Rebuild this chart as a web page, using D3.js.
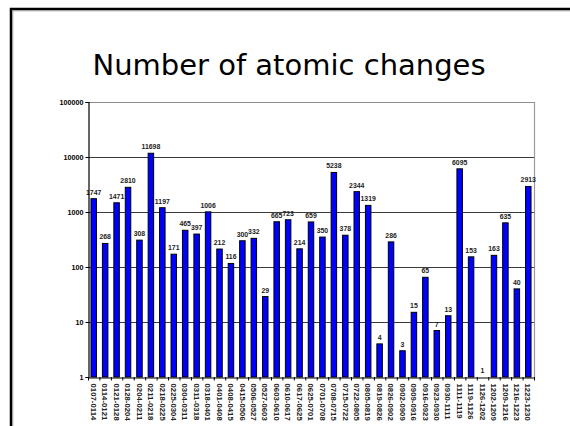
<!DOCTYPE html>
<html>
<head>
<meta charset="utf-8">
<script src="https://cdn.jsdelivr.net/npm/d3@7"></script>
<style>
  html, body { margin: 0; padding: 0; background: #fff; }
  svg { display: block; }
</style>
</head>
<body>
<script>
// Weekly periods (MMDD-MMDD)
const periods = [
  "0107-0114", "0114-0121", "0121-0128", "0128-0204", "0204-0211", "0211-0218",
  "0218-0225", "0225-0304", "0304-0311", "0311-0318", "0318-0401", "0401-0408",
  "0408-0415", "0415-0506", "0506-0527", "0527-0603", "0603-0610", "0610-0617",
  "0617-0625", "0625-0701", "0701-0708", "0708-0715", "0715-0722", "0722-0805",
  "0805-0819", "0819-0826", "0826-0902", "0902-0909", "0909-0916", "0916-0923",
  "0923-0930", "0930-1111", "1111-1119", "1119-1126", "1126-1202", "1202-1209",
  "1209-1216", "1216-1223", "1223-1230"
];

// Number of atomic changes per period
const changes = [
  1747, 268, 1471, 2810, 308, 11698,
  1197, 171, 465, 397, 1006, 212,
  116, 300, 332, 29, 665, 723,
  214, 659, 350, 5238, 378, 2344,
  1319, 4, 286, 3, 15, 65,
  7, 13, 6095, 153, 1, 163,
  635, 40, 2913
];

// Logarithmic axis ticks
const yTicks = [1, 10, 100, 1000, 10000, 100000];

const W = 570, H = 426;
const plot = { left: 88, right: 534, top: 102, bottom: 377 };
const smallFont = "'Liberation Sans', Arial, sans-serif";

const svg = d3.select("body").append("svg")
  .attr("width", W).attr("height", H);

// Slide frame
svg.append("path")
  .attr("d", `M11,${H} V9 H${W}`)
  .attr("fill", "none").attr("stroke", "#000").attr("stroke-width", 2.5);
svg.append("path")
  .attr("d", `M12.75,${H} V10.75 H${W}`)
  .attr("fill", "none").attr("stroke", "#999").attr("stroke-width", 1);

// Title
svg.append("text")
  .attr("x", 289).attr("y", 75)
  .attr("text-anchor", "middle")
  .attr("font-family", "'Comic Sans MS', 'DejaVu Sans', sans-serif")
  .attr("font-size", 29)
  .attr("fill", "#000")
  .text("Number of atomic changes");

const x = d3.scaleBand()
  .domain(periods)
  .range([plot.left, plot.right])
  .padding(0);

const y = d3.scaleLog()
  .domain([1, 100000])
  .range([plot.bottom, plot.top]);

const barW = x.bandwidth() * 0.48;

// Gridlines
svg.append("g")
  .selectAll("line")
  .data(yTicks.slice(1))
  .join("line")
  .attr("x1", plot.left).attr("x2", plot.right)
  .attr("y1", d => Math.round(y(d)) + 0.5).attr("y2", d => Math.round(y(d)) + 0.5)
  .attr("stroke", d => d === 100000 ? "#8c8c8c" : "#3a3a3a")
  .attr("stroke-width", 1.2);

// Right edge of the plot area
svg.append("line")
  .attr("x1", plot.right + 0.5).attr("x2", plot.right + 0.5)
  .attr("y1", plot.top).attr("y2", plot.bottom)
  .attr("stroke", "#9a9a9a").attr("stroke-width", 1.2);

// Bars
svg.append("g")
  .selectAll("rect")
  .data(periods.map((p, i) => ({ p, v: changes[i] })))
  .join("rect")
  .attr("x", d => x(d.p) + (x.bandwidth() - barW) / 2)
  .attr("width", barW)
  .attr("y", d => y(d.v))
  .attr("height", d => plot.bottom - y(d.v))
  .attr("fill", "#0000ff")
  .attr("stroke", "#000")
  .attr("stroke-width", d => d.v > 1 ? 1 : 0);

// Value labels
svg.append("g")
  .selectAll("text")
  .data(periods.map((p, i) => ({ p, v: changes[i] })))
  .join("text")
  .attr("x", d => x(d.p) + x.bandwidth() / 2)
  .attr("y", d => y(d.v) - 4)
  .attr("text-anchor", "middle")
  .attr("font-family", smallFont)
  .attr("font-weight", "bold")
  .attr("font-size", 6.9)
  .attr("fill", "#222")
  .text(d => d.v);

// Y axis
const yAxis = d3.axisLeft(y)
  .tickValues(yTicks)
  .tickFormat(d3.format("d"))
  .tickSize(3)
  .tickPadding(2);
const gy = svg.append("g")
  .attr("transform", `translate(${plot.left + 0.5},0)`)
  .call(yAxis);
gy.select(".domain").attr("stroke", "#000").attr("stroke-width", 1.2);
gy.selectAll(".tick line").attr("stroke", "#000");
gy.selectAll(".tick text")
  .attr("font-family", smallFont)
  .attr("font-weight", "bold")
  .attr("font-size", 7.2)
  .attr("fill", "#000");

// X axis
const xAxis = d3.axisBottom(x).tickSize(0).tickPadding(0);
const gx = svg.append("g")
  .attr("transform", `translate(0,${plot.bottom + 0.5})`)
  .call(xAxis);
gx.select(".domain").attr("stroke", "#000").attr("stroke-width", 1.2);
gx.selectAll(".tick text")
  .attr("font-family", smallFont)
  .attr("font-weight", "bold")
  .attr("font-size", 7.8)
  .attr("fill", "#222")
  .attr("text-anchor", "start")
  .attr("dy", null)
  .attr("transform", "translate(-2.8,6) rotate(90)");

// Category separator ticks
svg.append("g")
  .selectAll("line")
  .data(periods.concat(["end"]))
  .join("line")
  .attr("x1", (d, i) => plot.left + i * x.bandwidth() + 0.5)
  .attr("x2", (d, i) => plot.left + i * x.bandwidth() + 0.5)
  .attr("y1", plot.bottom)
  .attr("y2", plot.bottom + 3.5)
  .attr("stroke", "#000");
</script>
</body>
</html>
